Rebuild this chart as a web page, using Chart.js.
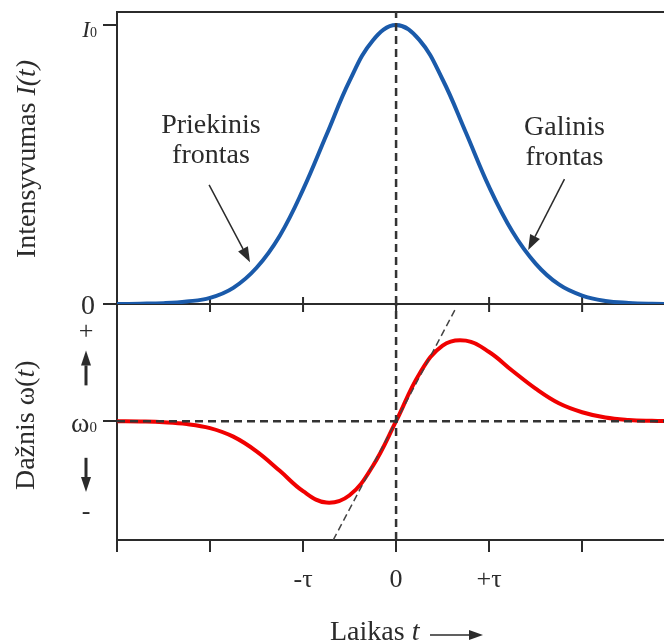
<!DOCTYPE html>
<html>
<head>
<meta charset="utf-8">
<script src="https://cdn.jsdelivr.net/npm/chart.js@4/dist/chart.umd.min.js"></script>
<style>
html, body { margin: 0; padding: 0; background: #fff; }
canvas { display: block; }
</style>
</head>
<body>
<canvas id="pulse-chart" width="664" height="643"></canvas>
<script>
// time in units of tau
const times = [-3, -2.75, -2.5, -2.25, -2, -1.75, -1.5, -1.25, -1, -0.75, -0.5, -0.25, 0,
               0.25, 0.5, 0.75, 1, 1.25, 1.5, 1.75, 2, 2.25, 2.5, 2.75, 3];
// pulse intensity, I0 = 1
const intensity = [0, 0.001, 0.003, 0.009, 0.022, 0.058, 0.13, 0.245, 0.41, 0.605, 0.8, 0.945, 1,
                   0.947, 0.805, 0.615, 0.42, 0.26, 0.145, 0.07, 0.03, 0.011, 0.004, 0.001, 0];
// instantaneous frequency shift from w0
const frequency = [0, -0.004, -0.013, -0.035, -0.085, -0.19, -0.37, -0.61, -0.86, -1.0, -0.91, -0.55, 0,
                   0.58, 0.93, 0.99, 0.85, 0.62, 0.4, 0.22, 0.11, 0.045, 0.016, 0.005, 0];
// linear chirp near the pulse centre
const chirpLine = [{ x: -0.676, y: -1.46 }, { x: 0.648, y: 1.40 }];

const timeTicks = [-3, -2, -1, 0, 1, 2];
const timeTickLabels = ['', '', '-τ', '0', '+τ', ''];
const timeRange = [-3, 2.88];
const intensityRange = [0, 1.047];
const frequencyRange = [-1.46, 1.44];

const FONT = '"Liberation Serif", "Times New Roman", serif';
const INK = '#2b2b2b';

function font(size, italic) {
    return (italic ? 'italic ' : '') + size + 'px ' + FONT;
}

// draw a row of text pieces with different fonts
function drawRuns(ctx, runs, x, y, align) {
    let total = 0;
    runs.forEach(r => {
        ctx.font = r.font;
        r.w = ctx.measureText(r.text).width;
        total += r.w;
    });
    let cx = align === 'center' ? x - total / 2 : align === 'right' ? x - total : x;
    runs.forEach(r => {
        ctx.font = r.font;
        ctx.fillText(r.text, cx, y + (r.dy || 0));
        cx += r.w;
    });
}

function drawArrow(ctx, x1, y1, x2, y2, headLen, headWidth, lineWidth) {
    const ang = Math.atan2(y2 - y1, x2 - x1);
    const bx = x2 - Math.cos(ang) * headLen;
    const by = y2 - Math.sin(ang) * headLen;
    ctx.lineWidth = lineWidth;
    ctx.beginPath();
    ctx.moveTo(x1, y1);
    ctx.lineTo(bx, by);
    ctx.stroke();
    const px = -Math.sin(ang) * headWidth / 2;
    const py = Math.cos(ang) * headWidth / 2;
    ctx.beginPath();
    ctx.moveTo(x2, y2);
    ctx.lineTo(bx + px, by + py);
    ctx.lineTo(bx - px, by - py);
    ctx.closePath();
    ctx.fill();
}

const frameLines = {
    id: 'frameLines',
    beforeDatasetsDraw(chart) {
        const { ctx, chartArea, scales } = chart;
        const midY = scales.yI.getPixelForValue(0);
        ctx.save();
        ctx.strokeStyle = INK;
        ctx.lineWidth = 2;
        ctx.beginPath();
        ctx.moveTo(chartArea.left, chartArea.top);
        ctx.lineTo(chartArea.right, chartArea.top);
        ctx.moveTo(chartArea.left, midY);
        ctx.lineTo(chartArea.right, midY);
        timeTicks.slice(1).forEach(t => {
            const x = scales.x.getPixelForValue(t);
            ctx.moveTo(x, midY - 7);
            ctx.lineTo(x, midY + 8);
        });
        ctx.stroke();
        ctx.restore();
    },
    afterDraw(chart) {
        const { ctx, chartArea, scales } = chart;
        const x = scales.x, yI = scales.yI, yW = scales.yW;
        const left = chartArea.left;
        ctx.save();
        ctx.fillStyle = INK;
        ctx.strokeStyle = INK;
        ctx.textAlign = 'left';
        ctx.textBaseline = 'alphabetic';

        // y tick labels
        drawRuns(ctx, [{ text: 'I', font: font(23, true) }, { text: '0', font: font(14) }],
            left - 20, yI.getPixelForValue(1) + 12, 'right');
        drawRuns(ctx, [{ text: '0', font: font(28) }], left - 22, yI.getPixelForValue(0) + 10, 'right');
        drawRuns(ctx, [{ text: 'ω', font: font(28) }, { text: '0', font: font(15) }],
            left - 20, yW.getPixelForValue(0) + 11, 'right');

        // sign marks and arrows of the frequency axis
        const sx = left - 31;
        ctx.textAlign = 'center';
        ctx.textBaseline = 'middle';
        ctx.font = font(26);
        ctx.fillText('+', sx, yW.getPixelForValue(1.09));
        ctx.fillText('-', sx, yW.getPixelForValue(-1.12));
        ctx.textAlign = 'left';
        ctx.textBaseline = 'alphabetic';
        drawArrow(ctx, sx, yW.getPixelForValue(0.44), sx, yW.getPixelForValue(0.87), 15, 10, 3);
        drawArrow(ctx, sx, yW.getPixelForValue(-0.45), sx, yW.getPixelForValue(-0.87), 15, 10, 3);

        // rotated axis titles
        ctx.save();
        ctx.translate(35, yI.getPixelForValue(0.52));
        ctx.rotate(-Math.PI / 2);
        drawRuns(ctx, [{ text: 'Intensyvumas ', font: font(28) }, { text: 'I(t)', font: font(28, true) }], 0, 0, 'center');
        ctx.restore();
        ctx.save();
        ctx.translate(34, yW.getPixelForValue(-0.05));
        ctx.rotate(-Math.PI / 2);
        drawRuns(ctx, [{ text: 'Dažnis ω(', font: font(28) }, { text: 't', font: font(28, true) }, { text: ')', font: font(28) }], 0, 0, 'center');
        ctx.restore();

        // time axis title
        drawRuns(ctx, [{ text: 'Laikas ', font: font(28) }, { text: 't', font: font(28, true) }], 330, 640, 'left');
        drawArrow(ctx, 430, 635, 483, 635, 14, 10, 1.5);

        // leading and trailing edge notes
        const notes = [
            { lines: ['Priekinis', 'frontas'], t: -1.99, rows: [0.613, 0.505], from: [-2.01, 0.427], to: [-1.57, 0.15] },
            { lines: ['Galinis', 'frontas'], t: 1.81, rows: [0.606, 0.498], from: [1.81, 0.448], to: [1.42, 0.194] }
        ];
        notes.forEach(n => {
            n.lines.forEach((s, i) => {
                drawRuns(ctx, [{ text: s, font: font(28) }], x.getPixelForValue(n.t), yI.getPixelForValue(n.rows[i]), 'center');
            });
            drawArrow(ctx, x.getPixelForValue(n.from[0]), yI.getPixelForValue(n.from[1]),
                x.getPixelForValue(n.to[0]), yI.getPixelForValue(n.to[1]), 15, 11, 1.5);
        });
        ctx.restore();
    }
};

function points(ys) {
    return times.map((t, i) => ({ x: t, y: ys[i] }));
}

const dashed = { borderColor: '#333', borderWidth: 2.5, borderDash: [8, 5], pointRadius: 0, fill: false };

new Chart(document.getElementById('pulse-chart'), {
    type: 'line',
    data: {
        datasets: [
            Object.assign({ data: [{ x: 0, y: intensityRange[0] }, { x: 0, y: intensityRange[1] }], yAxisID: 'yI' }, dashed),
            Object.assign({ data: [{ x: 0, y: frequencyRange[0] }, { x: 0, y: frequencyRange[1] }], yAxisID: 'yW' }, dashed),
            Object.assign({ data: [{ x: timeRange[0], y: 0 }, { x: timeRange[1], y: 0 }], yAxisID: 'yW' }, dashed),
            { data: chirpLine, yAxisID: 'yW', borderColor: '#444', borderWidth: 1.5, borderDash: [7, 4], pointRadius: 0 },
            { data: points(intensity), yAxisID: 'yI', borderColor: '#1a5aaa', borderWidth: 4, pointRadius: 0, tension: 0.4 },
            { data: points(frequency), yAxisID: 'yW', borderColor: '#f00000', borderWidth: 4, pointRadius: 0, tension: 0.4 }
        ]
    },
    options: {
        responsive: false,
        animation: false,
        devicePixelRatio: 1,
        layout: { padding: { top: 12, left: 0, right: 0, bottom: 0 } },
        plugins: { legend: { display: false }, tooltip: { enabled: false } },
        scales: {
            x: {
                type: 'linear',
                min: timeRange[0],
                max: timeRange[1],
                afterBuildTicks: scale => { scale.ticks = timeTicks.map(v => ({ value: v })); },
                afterFit: scale => { scale.height = 103; },
                border: { color: INK, width: 2 },
                grid: { drawOnChartArea: false, tickLength: 12, color: INK, lineWidth: 2 },
                ticks: {
                    autoSkip: false,
                    maxRotation: 0,
                    padding: 13,
                    color: INK,
                    font: { family: '"Liberation Serif"', size: 26 },
                    callback: (v, i) => timeTickLabels[i]
                }
            },
            yW: {
                type: 'linear',
                position: 'left',
                stack: 'panels',
                stackWeight: 236,
                min: frequencyRange[0],
                max: frequencyRange[1],
                afterBuildTicks: scale => { scale.ticks = [{ value: 0 }]; },
                afterFit: scale => { scale.width = 117; },
                border: { color: INK, width: 2 },
                grid: { drawOnChartArea: false, tickLength: 14, color: INK, lineWidth: 2 },
                ticks: { display: false }
            },
            yI: {
                type: 'linear',
                position: 'left',
                stack: 'panels',
                stackWeight: 292,
                min: intensityRange[0],
                max: intensityRange[1],
                afterBuildTicks: scale => { scale.ticks = [{ value: 0 }, { value: 1 }]; },
                afterFit: scale => { scale.width = 117; },
                border: { color: INK, width: 2 },
                grid: { drawOnChartArea: false, tickLength: 14, color: INK, lineWidth: 2 },
                ticks: { display: false }
            }
        }
    },
    plugins: [frameLines]
});
</script>
</body>
</html>
